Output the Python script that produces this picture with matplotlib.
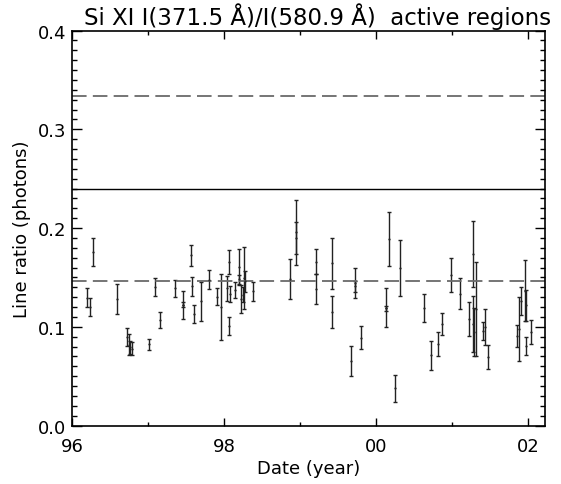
import matplotlib
matplotlib.use("Agg")
import matplotlib.pyplot as plt
from matplotlib.ticker import MultipleLocator, FixedLocator

plt.rcParams['font.family'] = ['DejaVu Sans']
plt.rcParams['lines.scale_dashes'] = False

title = "Si XI I(371.5 Å)/I(580.9 Å)  active regions"
xlabel = "Date (year)"
ylabel = "Line ratio (photons)"

year = [96.193, 96.233, 96.272, 96.588, 96.720, 96.746, 96.763, 96.793, 97.017, 97.088,
        97.158, 97.351, 97.464, 97.464, 97.562, 97.575, 97.601, 97.697, 97.799, 97.908,
        97.961, 98.062, 98.066, 98.043, 98.079, 98.141, 98.193, 98.201, 98.224, 98.246,
        98.267, 98.276, 98.378, 98.868, 98.943, 98.947, 99.207, 99.207, 99.425, 99.425,
        99.667, 99.724, 99.728, 99.803, 100.132, 100.136, 100.171, 100.250, 100.316, 100.632,
        100.724, 100.812, 100.872, 100.983, 101.109, 101.220, 101.270, 101.280, 101.283, 101.312,
        101.399, 101.425, 101.470, 101.851, 101.882, 101.904, 101.951, 101.970, 101.974, 102.036]
ratio = [0.1296, 0.1202, 0.1762, 0.1283, 0.0898, 0.0819, 0.0793, 0.0779, 0.0822, 0.1401,
         0.1068, 0.1389, 0.1222, 0.1224, 0.1723, 0.1409, 0.1131, 0.1260, 0.1478, 0.1306,
         0.1199, 0.1009, 0.1655, 0.1389, 0.1333, 0.1374, 0.1604, 0.1480, 0.1280, 0.1325,
         0.1493, 0.1463, 0.1359, 0.1485, 0.1958, 0.1899, 0.1660, 0.1384, 0.1642, 0.1149,
         0.0658, 0.1442, 0.1412, 0.0891, 0.1195, 0.1189, 0.1891, 0.0378, 0.1595, 0.1191,
         0.0710, 0.0829, 0.1027, 0.1526, 0.1336, 0.1083, 0.1032, 0.1739, 0.0948, 0.1184,
         0.0960, 0.0999, 0.0697, 0.0905, 0.0979, 0.1264, 0.1366, 0.1220, 0.0804, 0.0951]
error = [0.0095, 0.0088, 0.0142, 0.0149, 0.0088, 0.0109, 0.0068, 0.0064, 0.0056, 0.0091,
         0.0079, 0.0089, 0.0142, 0.0025, 0.0109, 0.0096, 0.0091, 0.0198, 0.0094, 0.0084,
         0.0337, 0.0089, 0.0119, 0.0124, 0.0084, 0.0084, 0.0185, 0.0046, 0.0139, 0.0076,
         0.0312, 0.0106, 0.0093, 0.0203, 0.0331, 0.0160, 0.0124, 0.0152, 0.0258, 0.0160,
         0.0152, 0.0152, 0.0056, 0.0114, 0.0200, 0.0025, 0.0271, 0.0135, 0.0286, 0.0145,
         0.0150, 0.0124, 0.0109, 0.0169, 0.0155, 0.0172, 0.0284, 0.0331, 0.0240, 0.0476,
         0.0093, 0.0182, 0.0124, 0.0114, 0.0321, 0.0144, 0.0309, 0.0157, 0.0089, 0.0122]

solid_level = 0.240
dashed_levels = [0.334, 0.1466]

xticks = [96, 98, 100, 102]
xticklabels = ["96", "98", "00", "02"]
yticks = [0.0, 0.1, 0.2, 0.3, 0.4]
yticklabels = ["0.0", "0.1", "0.2", "0.3", "0.4"]

fig = plt.figure(figsize=(5.61, 4.85), dpi=100)
ax = fig.add_axes([0.1283, 0.1204, 0.8431, 0.8144])

ax.errorbar(year, ratio, yerr=error, fmt='.', ms=1.2, color='#222222',
            ecolor='#222222', elinewidth=1.0, capsize=1.6, capthick=1.0)

ax.axhline(solid_level, color='black', lw=1.0)
for lv in dashed_levels:
    ax.axhline(lv, color='#6a6a6a', lw=1.3, linestyle=(0, (10.5, 4.5)))

ax.set_xlim(96, 102.22)
ax.set_ylim(0, 0.4)

ax.xaxis.set_major_locator(FixedLocator(xticks))
ax.set_xticklabels(xticklabels)
ax.xaxis.set_minor_locator(FixedLocator([97, 99, 101]))
ax.set_yticks(yticks)
ax.set_yticklabels(yticklabels)
ax.yaxis.set_minor_locator(MultipleLocator(0.01))

ax.tick_params(which='both', direction='in', top=True, right=True, labelsize=13, width=1.0)
ax.tick_params(axis='x', which='major', length=5.8, pad=8)
ax.tick_params(axis='x', which='minor', length=2.9)
ax.tick_params(axis='y', which='major', length=7.2, pad=4)
ax.tick_params(axis='y', which='minor', length=3.6)
for s in ax.spines.values():
    s.set_linewidth(1.2)

ax.set_title(title, fontsize=16.5, pad=5, x=0.52)
ax.set_xlabel(xlabel, fontsize=13, labelpad=3)
ax.set_ylabel(ylabel, fontsize=13, labelpad=5)

fig.savefig("out.png", dpi=100)
